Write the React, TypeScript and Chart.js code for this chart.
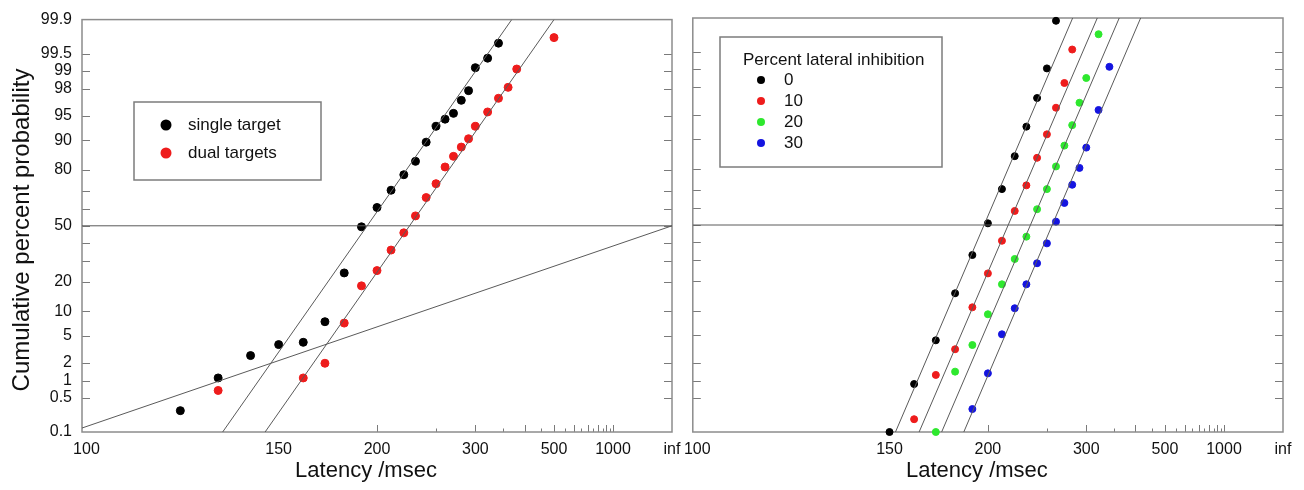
import React, { useEffect, useRef } from "react";
import { Chart, registerables } from "chart.js";
Chart.register(...registerables);

// ---------------- data (latency in ms, cumulative percent) ----------------
// Left panel
const singleLatency = [120, 130, 140, 150, 160, 170, 180, 190, 200, 210, 220, 230, 240, 250, 260, 270, 280, 290, 300, 320, 340];
const singlePct = [0.28, 1.13, 2.59, 3.75, 4.04, 7.53, 24.0, 49.4, 60.8, 70.3, 77.8, 83.3, 89.5, 93.2, 94.5, 95.4, 97.0, 97.86, 99.11, 99.4, 99.69];
const dualLatency = [130, 160, 170, 180, 190, 200, 210, 220, 230, 240, 250, 260, 270, 280, 290, 300, 320, 340, 360, 380, 500];
const dualPct = [0.68, 1.13, 1.97, 7.24, 18.4, 25.1, 35.8, 45.8, 55.9, 66.4, 73.6, 81.1, 85.1, 88.1, 90.4, 93.2, 95.6, 97.2, 98.1, 99.06, 99.76];

const singleFitLatency = [131.3, 368.1];
const singleFitPct = [0.1, 99.9];
const dualFitLatency = [145.0, 500];
const dualFitPct = [0.1, 99.9];
const shallowLatency = [100, Infinity];
const shallowPct = [0.122, 50];
const medianLatency = [100, Infinity];
const medianPct = [50, 50];

// Right panel
const inhibitionLevels = ["0", "10", "20", "30"];
const inhibitionColors = ["#000000", "#ee1c1c", "#2ee82e", "#1414e0"];
const lat0 = [150, 160, 170, 180, 190, 200, 210, 220, 230, 240, 250, 260];
const pct0 = [0.1, 0.88, 4.26, 15.4, 32.7, 51.0, 70.4, 84.8, 92.9, 97.1, 99.03, 99.885];
const lat10 = [160, 170, 180, 190, 200, 210, 220, 230, 240, 250, 260, 270, 280];
const pct10 = [0.187, 1.26, 3.18, 10.96, 23.5, 40.7, 58.3, 72.3, 84.2, 91.2, 96.0, 98.3, 99.56];
const lat20 = [170, 180, 190, 200, 210, 220, 230, 240, 250, 260, 270, 280, 290, 300, 320];
const pct20 = [0.1, 1.43, 3.66, 9.13, 18.8, 30.6, 43.1, 59.3, 70.4, 80.9, 88.2, 93.2, 96.6, 98.59, 99.78];
const lat30 = [190, 200, 210, 220, 230, 240, 250, 260, 270, 280, 290, 300, 320, 340];
const pct30 = [0.3, 1.34, 5.14, 10.7, 18.8, 28.4, 39.2, 52.0, 62.9, 72.6, 80.3, 87.6, 95.7, 99.09];
const inhibitionLatencies = [lat0, lat10, lat20, lat30];
const inhibitionPcts = [pct0, pct10, pct20, pct30];
const fitStartLatency = [152.3, 162.2, 172.9, 184.9];
const fitEndLatency = [280.6, 317.8, 360.4, 414.6];
const fitStartPct = [0.1, 0.1, 0.1, 0.1];
const fitEndPct = [99.9, 99.9, 99.9, 99.9];

// Axis ticks
const probTicks = [0.1, 0.5, 1, 2, 5, 10, 20, 30, 40, 50, 60, 70, 80, 90, 95, 98, 99, 99.5, 99.9];
const probLabels = ["0.1", "0.5", "1", "2", "5", "10", "20", "", "", "50", "", "", "80", "90", "95", "98", "99", "99.5", "99.9"];
const latencyTicks = [100, 150, 200, 300, 500, 1000, Infinity];
const latencyLabels = ["  100", "150", "200", "300", "500", "1000", "inf"];
const majorLatencyMarks = [200, 300, 400, 500, 600, 700, 800, 900, 1000];
const minorLatencyMarks = [250, 350, 450, 550, 650, 750, 850, 950];

// ---------------- helpers ----------------
const FONT = '"Liberation Sans", Arial, Helvetica, sans-serif';
const LINE = "#5a5a5a";

function probit(p: number): number {
  const a = [-3.969683028665376e1, 2.209460984245205e2, -2.759285104469687e2, 1.38357751867269e2, -3.066479806614716e1, 2.506628277459239];
  const b = [-5.447609879822406e1, 1.615858368580409e2, -1.556989798598866e2, 6.680131188771972e1, -1.328068155288572e1];
  const c = [-7.784894002430293e-3, -3.223964580411365e-1, -2.400758277161838, -2.549732539343734, 4.374664141464968, 2.938163982698783];
  const d = [7.784695709041462e-3, 3.224671290700398e-1, 2.445134137142996, 3.754408661907416];
  const plow = 0.02425;
  if (p < plow) {
    const q = Math.sqrt(-2 * Math.log(p));
    return (((((c[0] * q + c[1]) * q + c[2]) * q + c[3]) * q + c[4]) * q + c[5]) / ((((d[0] * q + d[1]) * q + d[2]) * q + d[3]) * q + 1);
  }
  if (p <= 1 - plow) {
    const q = p - 0.5;
    const r = q * q;
    return ((((((a[0] * r + a[1]) * r + a[2]) * r + a[3]) * r + a[4]) * r + a[5]) * q) / (((((b[0] * r + b[1]) * r + b[2]) * r + b[3]) * r + b[4]) * r + 1);
  }
  const q = Math.sqrt(-2 * Math.log(1 - p));
  return -(((((c[0] * q + c[1]) * q + c[2]) * q + c[3]) * q + c[4]) * q + c[5]) / ((((d[0] * q + d[1]) * q + d[2]) * q + d[3]) * q + 1);
}

const toX = (t: number) => (t === Infinity ? 0 : -1000 / t);
const toY = (pct: number) => probit(pct / 100);
const pts = (lats: number[], pcts: number[]) => lats.map((t, i) => ({ x: toX(t), y: toY(pcts[i]) }));

function lineDs(lats: number[], pcts: number[]) {
  return {
    label: "",
    data: pts(lats, pcts),
    showLine: true,
    borderColor: LINE,
    borderWidth: 1,
    pointRadius: 0,
    fill: false,
  };
}

function pointDs(label: string, lats: number[], pcts: number[], color: string, r: number) {
  return {
    label,
    inLegend: true,
    data: pts(lats, pcts),
    showLine: false,
    pointRadius: r,
    pointBackgroundColor: color,
    pointBorderColor: color,
    pointBorderWidth: 1,
    backgroundColor: color,
    clip: false,
  };
}

type LegendCfg = {
  x: number; y: number; w: number; h: number;
  title?: string; titleX?: number; titleY?: number;
  dotX: number; textX: number; rowYs: number[]; dotR: number; fontSize: number;
};

function decorPlugin(opts: { yTitle?: string; xTitle: string; legend: LegendCfg }) {
  return {
    id: "decor",
    beforeDatasetsDraw(chart: any) {
      const { ctx, chartArea: a, scales } = chart;
      const xs = scales.x;
      const ys = scales.y;
      ctx.save();
      ctx.strokeStyle = "#7a7a7a";
      ctx.lineWidth = 1;
      ctx.beginPath();
      probTicks.forEach((p) => {
        if (p === 0.1 || p === 99.9) return;
        const y = Math.round(ys.getPixelForValue(toY(p))) + 0.5;
        ctx.moveTo(a.left, y);
        ctx.lineTo(a.left + 8, y);
        ctx.moveTo(a.right, y);
        ctx.lineTo(a.right - 8, y);
      });
      majorLatencyMarks.forEach((t) => {
        const x = Math.round(xs.getPixelForValue(toX(t))) + 0.5;
        ctx.moveTo(x, a.bottom);
        ctx.lineTo(x, a.bottom - 7);
      });
      minorLatencyMarks.forEach((t) => {
        const x = Math.round(xs.getPixelForValue(toX(t))) + 0.5;
        ctx.moveTo(x, a.bottom);
        ctx.lineTo(x, a.bottom - 3.5);
      });
      ctx.stroke();
      ctx.strokeStyle = "#8c8c8c";
      ctx.lineWidth = 1.5;
      ctx.strokeRect(a.left, a.top, a.right - a.left, a.bottom - a.top);
      ctx.restore();
    },
    afterDraw(chart: any) {
      const { ctx, chartArea: a } = chart;
      ctx.save();
      ctx.fillStyle = "#111";
      ctx.textAlign = "center";
      ctx.textBaseline = "middle";
      ctx.font = `22px ${FONT}`;
      ctx.fillText(opts.xTitle, (a.left + a.right) / 2 - 11, 471);
      if (opts.yTitle) {
        ctx.save();
        ctx.font = `24px ${FONT}`;
        ctx.translate(22, 230);
        ctx.rotate(-Math.PI / 2);
        ctx.fillText(opts.yTitle, 0, 0);
        ctx.restore();
      }
      // legend
      const L = opts.legend;
      ctx.fillStyle = "#fff";
      ctx.fillRect(L.x, L.y, L.w, L.h);
      ctx.strokeStyle = "#7c7c7c";
      ctx.lineWidth = 1.5;
      ctx.strokeRect(L.x, L.y, L.w, L.h);
      ctx.font = `${L.fontSize}px ${FONT}`;
      ctx.textAlign = "left";
      ctx.fillStyle = "#111";
      if (L.title) ctx.fillText(L.title, L.titleX, L.titleY);
      const items = chart.data.datasets.filter((d: any) => d.inLegend);
      items.forEach((d: any, i: number) => {
        const y = L.rowYs[i];
        ctx.beginPath();
        ctx.fillStyle = d.pointBackgroundColor;
        ctx.arc(L.dotX, y, L.dotR, 0, Math.PI * 2);
        ctx.fill();
        ctx.fillStyle = "#111";
        ctx.fillText(d.label, L.textX, y);
      });
      ctx.restore();
    },
  };
}

function makeOptions(showY: boolean, padding: any) {
  return {
    responsive: false,
    animation: false,
    events: [],
    layout: { padding },
    plugins: { legend: { display: false }, tooltip: { enabled: false } },
    scales: {
      x: {
        type: "linear",
        position: "bottom",
        min: -10,
        max: 0,
        afterBuildTicks: (s: any) => {
          s.ticks = latencyTicks.map((t) => ({ value: toX(t) }));
        },
        afterFit: (s: any) => {
          s.height = 58;
        },
        grid: { display: false, drawTicks: false, tickLength: 0 },
        border: { display: false },
        ticks: {
          autoSkip: false,
          maxRotation: 0,
          padding: 8,
          color: "#111",
          font: { size: 16, family: FONT },
          callback: (_v: any, i: number) => latencyLabels[i],
        },
      },
      y: {
        type: "linear",
        display: showY,
        min: toY(0.1),
        max: toY(99.9),
        afterBuildTicks: (s: any) => {
          s.ticks = probTicks.map((p) => ({ value: toY(p) }));
        },
        afterFit: (s: any) => {
          s.width = showY ? 82 : 0;
        },
        grid: { display: false, drawTicks: false, tickLength: 0 },
        border: { display: false },
        ticks: {
          autoSkip: false,
          padding: 10,
          color: "#111",
          font: { size: 16, family: FONT },
          callback: (_v: any, i: number) => probLabels[i],
        },
      },
    },
  };
}

export default function App() {
  const leftRef = useRef<HTMLCanvasElement>(null);
  const rightRef = useRef<HTMLCanvasElement>(null);

  useEffect(() => {
    const left = new Chart(leftRef.current as HTMLCanvasElement, {
      type: "scatter",
      data: {
        datasets: [
          lineDs(medianLatency, medianPct),
          lineDs(shallowLatency, shallowPct),
          lineDs(singleFitLatency, singleFitPct),
          lineDs(dualFitLatency, dualFitPct),
          pointDs("single target", singleLatency, singlePct, "#000000", 4),
          pointDs("dual targets", dualLatency, dualPct, "#ee1c1c", 4),
        ] as any,
      },
      options: makeOptions(true, { left: 0, right: 28, top: 18, bottom: 0 }) as any,
      plugins: [
        decorPlugin({
          yTitle: "Cumulative percent probability",
          xTitle: "Latency /msec",
          legend: { x: 134, y: 102, w: 187, h: 78, dotX: 166, textX: 188, rowYs: [125, 153], dotR: 5.5, fontSize: 17 },
        }),
      ],
    });

    const rightSets: any[] = [lineDs(medianLatency, medianPct)];
    inhibitionLevels.forEach((_, i) => {
      rightSets.push(lineDs([fitStartLatency[i], fitEndLatency[i]], [fitStartPct[i], fitEndPct[i]]));
    });
    inhibitionLevels.forEach((lvl, i) => {
      rightSets.push(pointDs(lvl, inhibitionLatencies[i], inhibitionPcts[i], inhibitionColors[i], 3.5));
    });

    const right = new Chart(rightRef.current as HTMLCanvasElement, {
      type: "scatter",
      data: { datasets: rightSets },
      options: makeOptions(false, { left: 21, right: 21, top: 18, bottom: 0 }) as any,
      plugins: [
        decorPlugin({
          xTitle: "Latency /msec",
          legend: {
            x: 53, y: 37, w: 222, h: 130,
            title: "Percent lateral inhibition", titleX: 76, titleY: 60,
            dotX: 94, textX: 117, rowYs: [80, 101, 122, 143], dotR: 4, fontSize: 17,
          },
        }),
      ],
    });

    return () => {
      left.destroy();
      right.destroy();
    };
  }, []);

  return (
    <div style={{ position: "absolute", left: 0, top: 0, width: 1304, height: 490, background: "#fff" }}>
      <div style={{ position: "absolute", left: 0, top: 0 }}>
        <canvas ref={leftRef} width={700} height={490} style={{ display: "block" }} />
      </div>
      <div style={{ position: "absolute", left: 667, top: 0 }}>
        <canvas ref={rightRef} width={637} height={490} style={{ display: "block" }} />
      </div>
    </div>
  );
}
